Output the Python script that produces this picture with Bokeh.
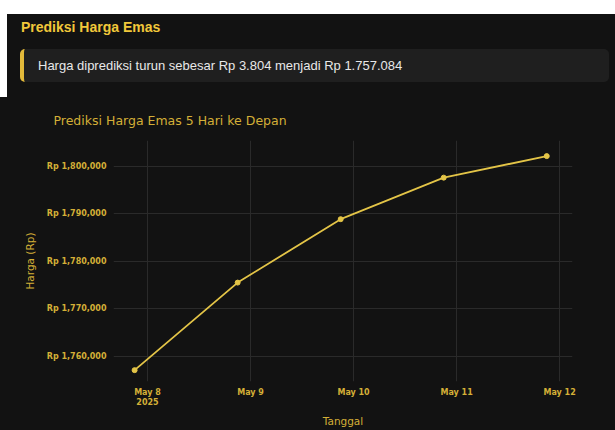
import pandas as pd
from bokeh.plotting import figure
from bokeh.models import Div, FixedTicker, DatetimeTickFormatter, Range1d
from bokeh.layouts import column
from bokeh.embed import file_html
from bokeh.resources import INLINE

# ---- data ----
dates = ["2025-05-07 21:00", "2025-05-08 21:00", "2025-05-09 21:00",
         "2025-05-10 21:00", "2025-05-11 21:00"]
prices = [1757084, 1775520, 1788880, 1797630, 1802160]
y_ticks = [1760000, 1770000, 1780000, 1790000, 1800000]
y_tick_labels = ["Rp 1,760,000", "Rp 1,770,000", "Rp 1,780,000",
                 "Rp 1,790,000", "Rp 1,800,000"]
x_tick_dates = ["2025-05-08", "2025-05-09", "2025-05-10", "2025-05-11", "2025-05-12"]

header_title = "Prediksi Harga Emas"
header_msg = "Harga diprediksi turun sebesar Rp 3.804 menjadi Rp 1.757.084"
chart_title = "Prediksi Harga Emas 5 Hari ke Depan"

BG = "#121212"
GOLD = "#d4af37"
LINE = "#e3c447"

header_html = f"""
<div style="position:relative;width:608px;height:83px;background:{BG};font-family:'Liberation Sans',Arial,sans-serif;">
  <div style="position:absolute;left:14px;top:3px;color:#f1c83a;font-weight:bold;font-size:14px;white-space:nowrap;">{header_title}</div>
  <div style="position:absolute;left:13px;top:35px;height:33px;background:#1f1f1f;border-left:4px solid #e2b93a;border-radius:5px;
              color:#e8e8e8;font-size:13px;line-height:33px;padding-left:14px;box-sizing:border-box;width:589px;white-space:nowrap;">{header_msg}</div>
</div>
"""
header = Div(text=header_html, width=608, height=83, margin=(14, 0, 0, 7),
             styles={"background-color": BG})

x = pd.to_datetime(dates)
p = figure(width=615, height=333, x_axis_type="datetime",
           x_range=Range1d(pd.Timestamp("2025-05-07 16:05"), pd.Timestamp("2025-05-12 03:00")),
           y_range=Range1d(1754690, 1805450),
           output_backend="svg", toolbar_location=None,
           min_border_left=113, min_border_right=43, min_border_top=43, min_border_bottom=48,
           background_fill_color=None, border_fill_color=None, margin=(0, 0, 0, 0),
           styles={"background-color": BG})
p.outline_line_color = None

p.title.text = chart_title
p.title.text_color = GOLD
p.title.text_font = "DejaVu Sans"
p.title.text_font_style = "normal"
p.title.text_font_size = "12.5px"
p.title.align = "left"
p.title.offset = -60
p.title.standoff = 26

p.line(x, prices, line_color=LINE, line_width=1.8)
p.scatter(x, prices, size=5, fill_color=LINE, line_color=LINE)

# axes
p.xaxis.ticker = FixedTicker(ticks=[pd.Timestamp(d).value / 1e6 for d in x_tick_dates])
p.xaxis.formatter = DatetimeTickFormatter(days="%b %-d", context="%Y", context_which="start")
p.yaxis.ticker = FixedTicker(ticks=y_ticks)
p.yaxis.major_label_overrides = {t: l for t, l in zip(y_ticks, y_tick_labels)}

p.xaxis.axis_label = "Tanggal"
p.yaxis.axis_label = "Harga (Rp)"
for ax in (p.xaxis[0], p.yaxis[0]):
    ax.axis_line_color = None
    ax.major_tick_line_color = None
    ax.minor_tick_line_color = None
    ax.major_label_text_color = GOLD
    ax.major_label_text_font = "DejaVu Sans"
    ax.major_label_text_font_style = "bold"
    ax.major_label_text_font_size = "8px"
    ax.axis_label_text_color = GOLD
    ax.axis_label_text_font = "DejaVu Sans"
    ax.axis_label_text_font_style = "normal"
    ax.axis_label_text_font_size = "10.5px"
p.xaxis.major_label_standoff = 0
p.xaxis.axis_label_standoff = 5
p.yaxis.major_label_standoff = 1
p.yaxis.axis_label_standoff = 8

p.xgrid.grid_line_color = "#2a2a2a"
p.ygrid.grid_line_color = "#2a2a2a"

layout = column(header, p, spacing=0)
open("out.html", "w").write(file_html(layout, INLINE))
